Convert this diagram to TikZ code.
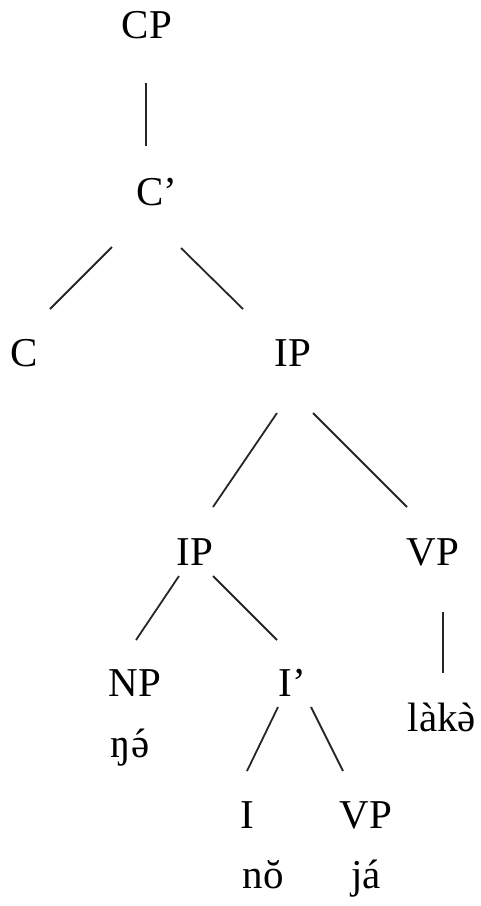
\documentclass[tikz,border=0pt]{standalone}
\usepackage{fontspec}
\setmainfont{Liberation Serif}
% same face without the TeX quote ligatures, for spacing accent glyphs
\newfontfamily\accfont{Liberation Serif}
\usetikzlibrary{calc}
% tone mark #1 centred over the letter #2
\newcommand\toneover[2]{\ooalign{#2\cr\hidewidth{\accfont#1}\hidewidth\cr}}
\begin{document}
\begin{tikzpicture}[x=1pt,y=-1pt,
  lab/.style={anchor=base,inner sep=0pt,font=\fontsize{41}{49}\selectfont},
  branch/.style={line width=1.8pt,draw=black!85}]
\useasboundingbox (0,0) rectangle (481,906);
% category labels and words, placed by their baselines
\node[lab] (cp)   at (147,38)  {CP};
\node[lab] (cbar) at (157,205) {C’};
\node[lab] (c)    at (24,366)  {C};
\node[lab] (ip)   at (293,366) {IP};
\node[lab] (ipl)  at (195,565) {IP};
\node[lab] (vp)   at (433,565) {VP};
\node[lab] (np)   at (135,696) {NP};
\node[lab] (ibar) at (292,696) {I’};
\node[lab] (nge)  at (130,757) {ŋ\toneover{´}{ə}};
\node[lab] (lake) at (442,731) {làk\toneover{`}{ə}};
\node[lab] (i)    at (247,828) {I};
\node[lab] (vpl)  at (366,828) {VP};
\node[lab] (no)   at (263,888) {nŏ};
\node[lab] (ja)   at (366,888) {já};
% branches
\draw[branch] ($(cp.base)+(-1,45)$)   -- ($(cbar.base)+(-11,-59)$);
\draw[branch] ($(cbar.base)+(-45,42)$) -- ($(c.base)+(26,-57)$);
\draw[branch] ($(cbar.base)+(24,43)$)  -- ($(ip.base)+(-50,-57)$);
\draw[branch] ($(ip.base)+(-16,47)$)   -- ($(ipl.base)+(18,-58)$);
\draw[branch] ($(ip.base)+(20,47)$)    -- ($(vp.base)+(-26,-58)$);
\draw[branch] ($(ipl.base)+(-16,11)$)  -- ($(np.base)+(1,-56)$);
\draw[branch] ($(ipl.base)+(18,11)$)   -- ($(ibar.base)+(-15,-56)$);
\draw[branch] ($(vp.base)+(10,47)$)    -- ($(lake.base)+(1,-58)$);
\draw[branch] ($(ibar.base)+(-14,11)$) -- ($(i.base)+(0,-57)$);
\draw[branch] ($(ibar.base)+(19,11)$)  -- ($(vpl.base)+(-23,-57)$);
\end{tikzpicture}
\end{document}
